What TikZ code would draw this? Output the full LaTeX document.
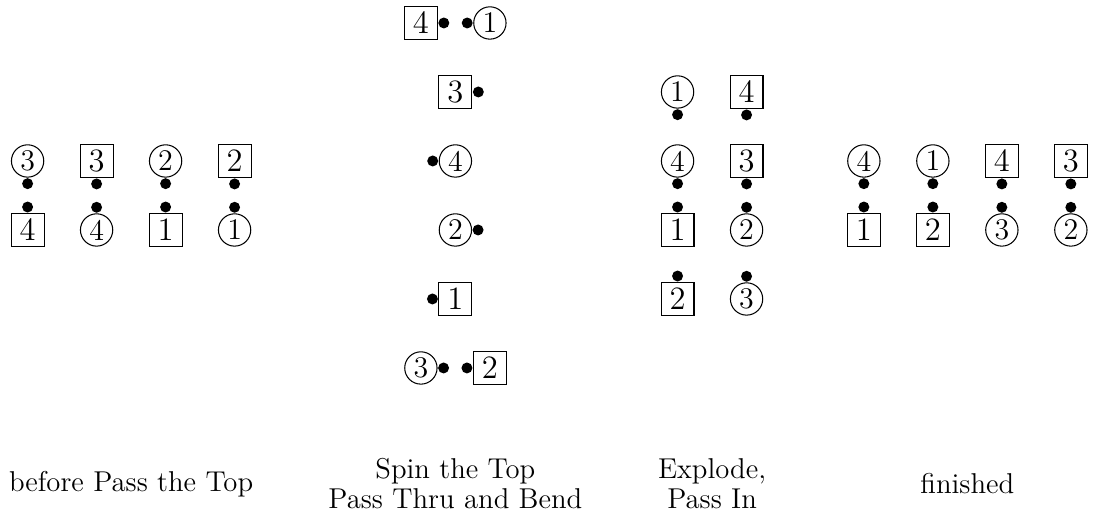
\documentclass[tikz,border=0pt]{standalone}
\tikzset{
  sqd boy/.style={draw, rectangle, line width=0.4pt, minimum size=12.6pt, inner sep=0pt, font=\fontsize{12.5}{14}\selectfont},
  sqd girl/.style={draw, circle, line width=0.4pt, minimum size=12.4pt, inner sep=0pt, font=\fontsize{11.5}{13}\selectfont},
  sqd dot/.style={circle, fill, minimum size=4.2pt, inner sep=0pt},
  sqd caption/.style={align=center, font=\fontsize{11}{11.5}\selectfont},
}
\begin{document}
\begin{tikzpicture}[x=0.93cm,y=0.93cm]
\useasboundingbox(0,-2.232)rectangle(15.841,5.333);
% before Pass the Top
\node[sqd girl](aG3)at(0.4,3){3};\node[sqd dot,anchor=north](aG3d)at(aG3.south){};
\node[sqd boy](aB3)at(1.4,3){3};\node[sqd dot,anchor=north](aB3d)at(aB3.south){};
\node[sqd girl](aG2)at(2.4,3){2};\node[sqd dot,anchor=north](aG2d)at(aG2.south){};
\node[sqd boy](aB2)at(3.4,3){2};\node[sqd dot,anchor=north](aB2d)at(aB2.south){};
\node[sqd boy](aB4)at(0.4,2){4};\node[sqd dot,anchor=south](aB4d)at(aB4.north){};
\node[sqd girl](aG4)at(1.4,2){4};\node[sqd dot,anchor=south](aG4d)at(aG4.north){};
\node[sqd boy](aB1)at(2.4,2){1};\node[sqd dot,anchor=south](aB1d)at(aB1.north){};
\node[sqd girl](aG1)at(3.4,2){1};\node[sqd dot,anchor=south](aG1d)at(aG1.north){};
\node[sqd caption](aCap)at(1.9,-1.68){before Pass the Top};
% Spin the Top, Pass Thru and Bend
\node[sqd boy](bB4)at(6.1,5){4};\node[sqd dot,anchor=west](bB4d)at(bB4.east){};
\node[sqd girl](bG1)at(7.1,5){1};\node[sqd dot,anchor=east](bG1d)at(bG1.west){};
\node[sqd boy](bB3)at(6.6,4){3};\node[sqd dot,anchor=west](bB3d)at(bB3.east){};
\node[sqd girl](bG4)at(6.6,3){4};\node[sqd dot,anchor=east](bG4d)at(bG4.west){};
\node[sqd girl](bG2)at(6.6,2){2};\node[sqd dot,anchor=west](bG2d)at(bG2.east){};
\node[sqd boy](bB1)at(6.6,1){1};\node[sqd dot,anchor=east](bB1d)at(bB1.west){};
\node[sqd girl](bG3)at(6.1,0){3};\node[sqd dot,anchor=west](bG3d)at(bG3.east){};
\node[sqd boy](bB2)at(7.1,0){2};\node[sqd dot,anchor=east](bB2d)at(bB2.west){};
\node[sqd caption](bCap)at(6.6,-1.68){Spin the Top\\Pass Thru and Bend};
% Explode, Pass In
\node[sqd girl](cG1)at(9.82,4){1};\node[sqd dot,anchor=north](cG1d)at(cG1.south){};
\node[sqd boy](cB4)at(10.82,4){4};\node[sqd dot,anchor=north](cB4d)at(cB4.south){};
\node[sqd girl](cG4)at(9.82,3){4};\node[sqd dot,anchor=north](cG4d)at(cG4.south){};
\node[sqd boy](cB3)at(10.82,3){3};\node[sqd dot,anchor=north](cB3d)at(cB3.south){};
\node[sqd boy](cB1)at(9.82,2){1};\node[sqd dot,anchor=south](cB1d)at(cB1.north){};
\node[sqd girl](cG2)at(10.82,2){2};\node[sqd dot,anchor=south](cG2d)at(cG2.north){};
\node[sqd boy](cB2)at(9.82,1){2};\node[sqd dot,anchor=south](cB2d)at(cB2.north){};
\node[sqd girl](cG3)at(10.82,1){3};\node[sqd dot,anchor=south](cG3d)at(cG3.north){};
\node[sqd caption](cCap)at(10.32,-1.68){Explode,\\Pass In};
% finished
\node[sqd girl](dG4)at(12.52,3){4};\node[sqd dot,anchor=north](dG4d)at(dG4.south){};
\node[sqd girl](dG1)at(13.52,3){1};\node[sqd dot,anchor=north](dG1d)at(dG1.south){};
\node[sqd boy](dB4)at(14.52,3){4};\node[sqd dot,anchor=north](dB4d)at(dB4.south){};
\node[sqd boy](dB3)at(15.52,3){3};\node[sqd dot,anchor=north](dB3d)at(dB3.south){};
\node[sqd boy](dB1)at(12.52,2){1};\node[sqd dot,anchor=south](dB1d)at(dB1.north){};
\node[sqd boy](dB2)at(13.52,2){2};\node[sqd dot,anchor=south](dB2d)at(dB2.north){};
\node[sqd girl](dG3)at(14.52,2){3};\node[sqd dot,anchor=south](dG3d)at(dG3.north){};
\node[sqd girl](dG2)at(15.52,2){2};\node[sqd dot,anchor=south](dG2d)at(dG2.north){};
\node[sqd caption](dCap)at(14.02,-1.68){finished};
\end{tikzpicture}
\end{document}
